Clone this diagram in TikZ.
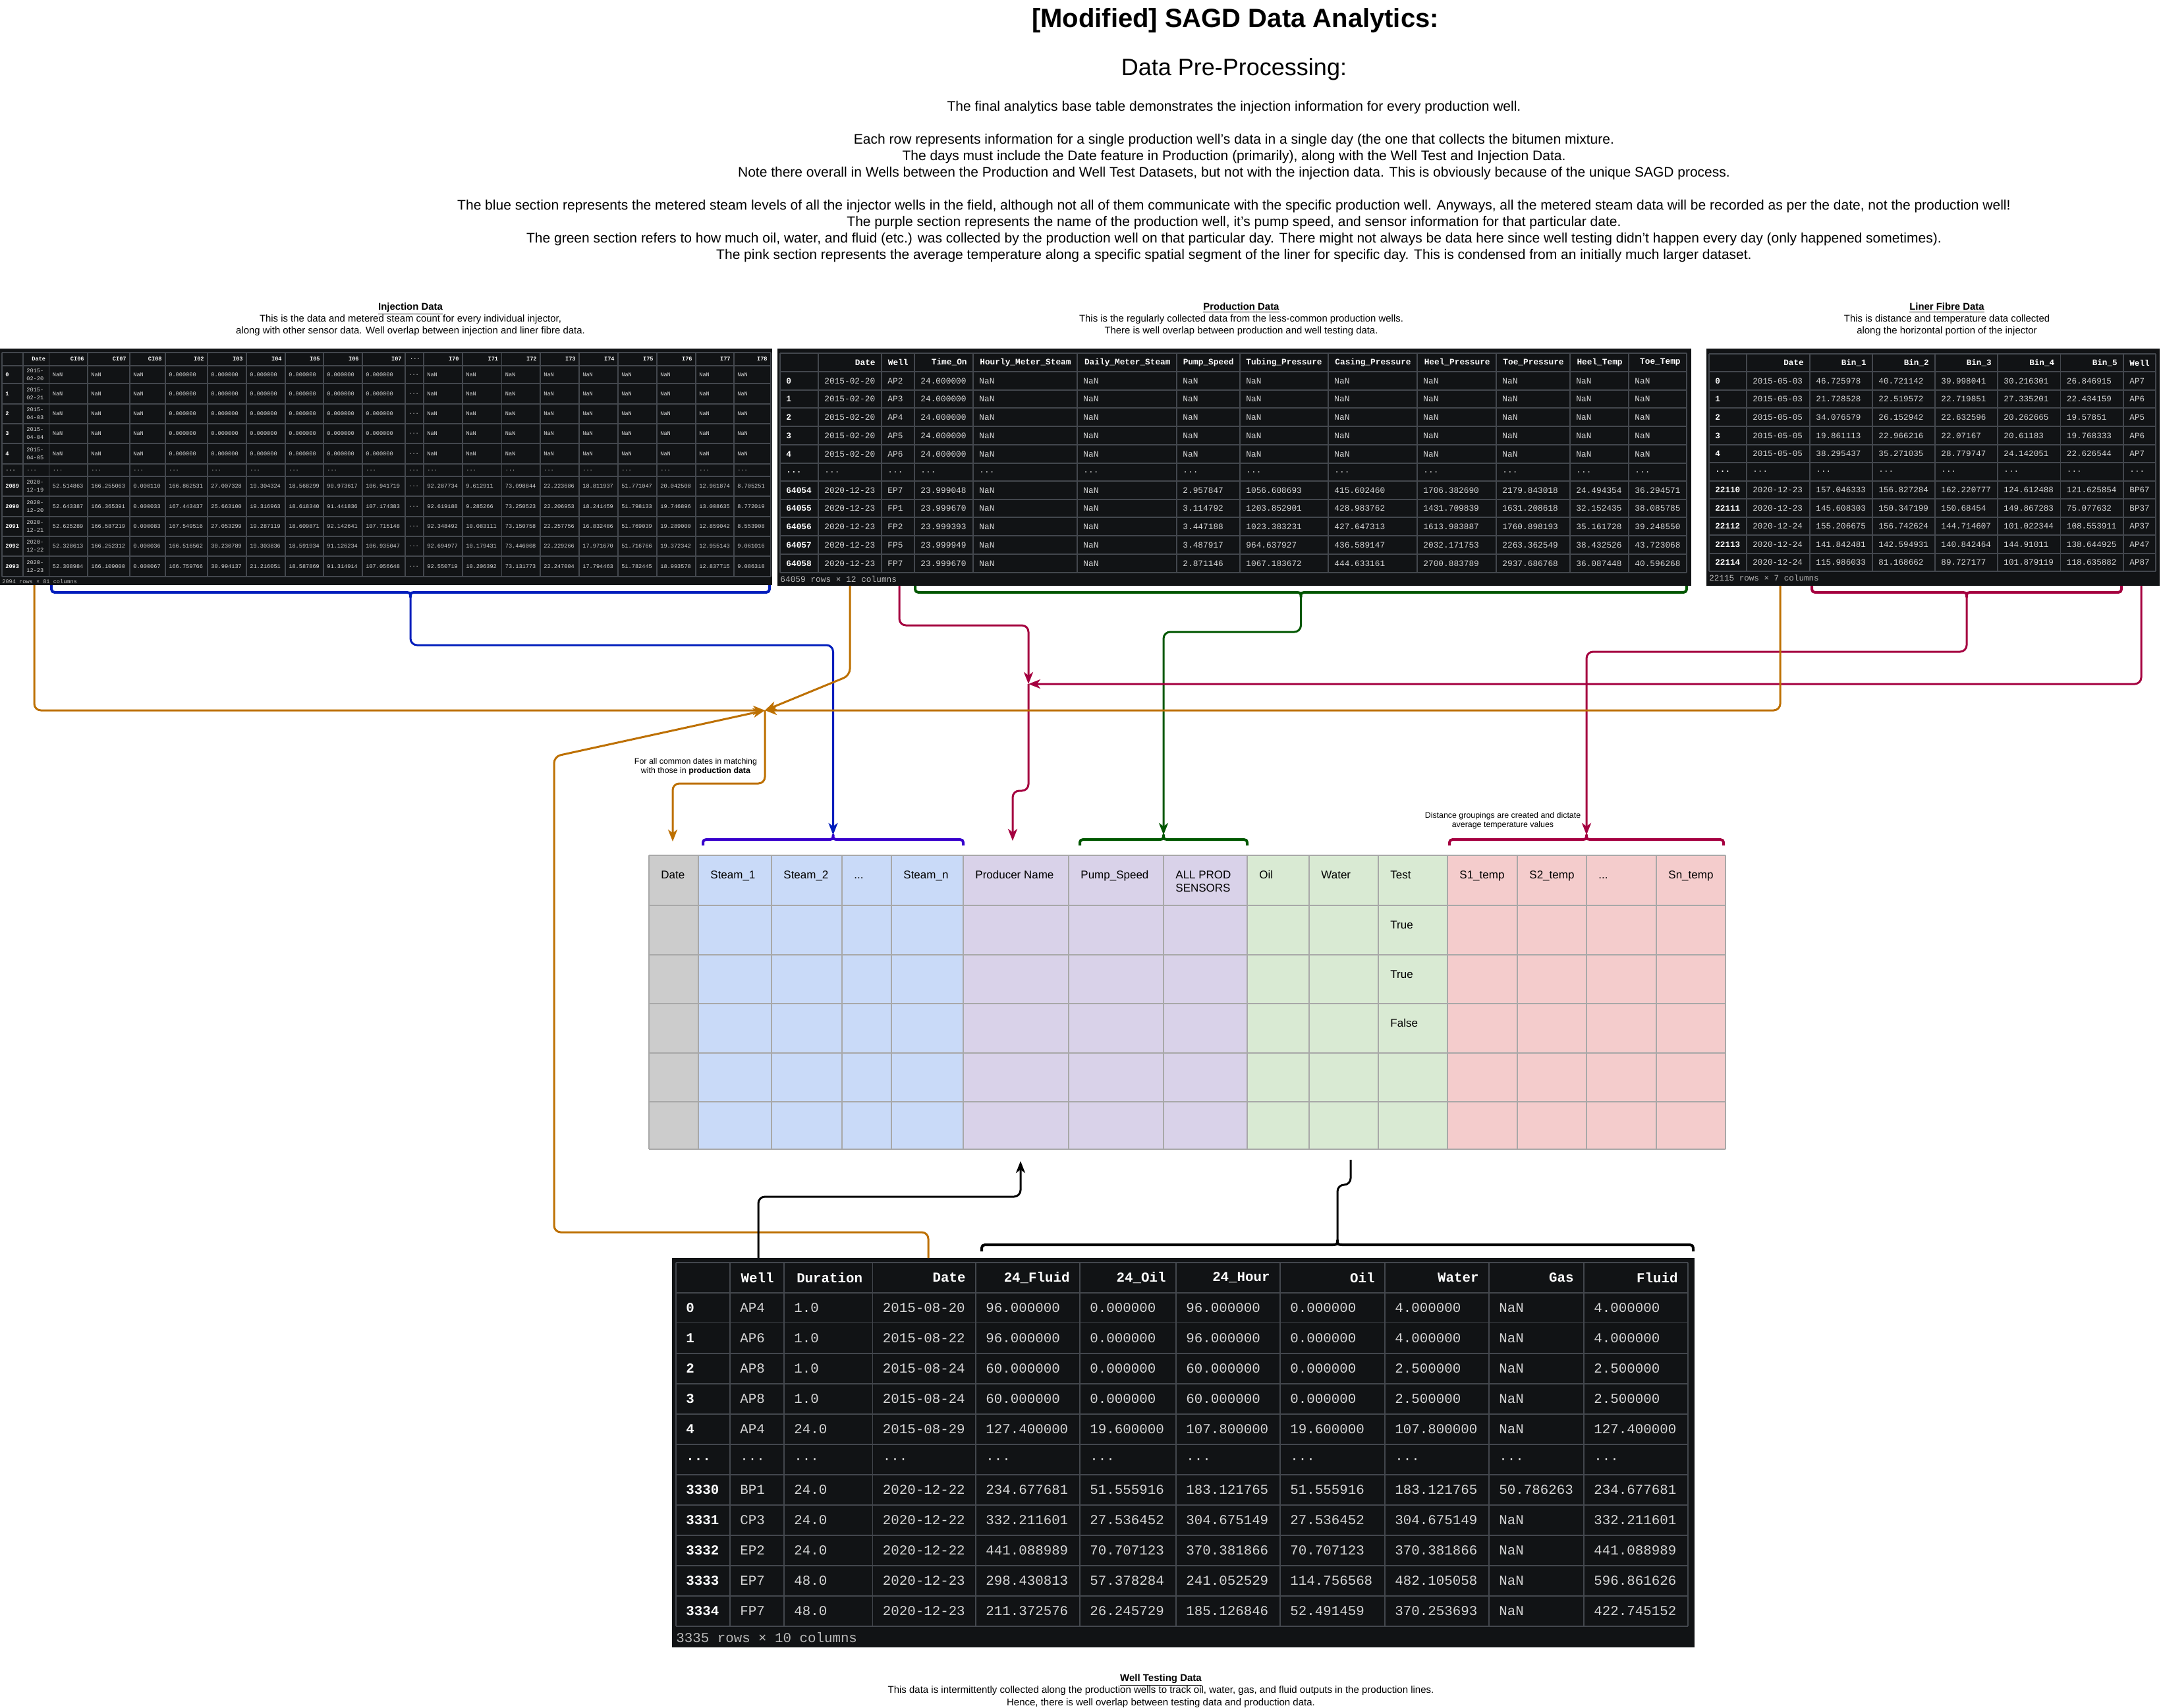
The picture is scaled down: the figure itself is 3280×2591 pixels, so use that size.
\documentclass[tikz,border=0pt]{standalone}
\usepackage{fontspec}
\setmainfont{Liberation Sans}
\newfontfamily\dfmono{Liberation Mono}
\usetikzlibrary{arrows.meta}
\definecolor{dfbg}{HTML}{111315}
\definecolor{dfgrid}{HTML}{43474D}
\definecolor{dftxt}{HTML}{D6D6D6}
\definecolor{dffoot}{HTML}{BBBBBB}
\definecolor{cOrange}{HTML}{BD7000}
\definecolor{cBlue}{HTML}{001DBC}
\definecolor{cIndigo}{HTML}{3700CC}
\definecolor{cCrimson}{HTML}{A50040}
\definecolor{cGreen}{HTML}{005700}
\definecolor{gGray}{HTML}{CCCCCC}
\definecolor{gBlue}{HTML}{C9DAF8}
\definecolor{gPurple}{HTML}{D9D2E9}
\definecolor{gGreen}{HTML}{D9EAD3}
\definecolor{gPink}{HTML}{F4CCCC}
\definecolor{gLine}{HTML}{A8A8A8}
\newcommand{\dfdots}{...}
% header row: prefix, xarray, y centre, style, pad, cells (columns 1..n)
\newcommand{\dfhead}[6]{%
  \foreach \c [count=\i from 1] in {#6} {%
    \pgfmathsetmacro\xr{#2[\i+1]}%
    \node[#4, anchor=east, text=white] (#1-\i) at (\xr-#5, #3) {\bfseries\c};
  }}
% data row: prefix, xarray, y centre, style, pad, cells (columns 0..n)
\newcommand{\dfdata}[6]{%
  \foreach \c [count=\i from 0] in {#6} {%
    \pgfmathsetmacro\xl{#2[\i]}%
    \ifnum\i=0
      \node[#4, anchor=west, text=white] (#1-\i) at (\xl+#5, #3) {\bfseries\c};
    \else
      \node[#4, anchor=west] (#1-\i) at (\xl+#5, #3) {\c};
    \fi
  }}
% horizontal brace: style, x1, x2, y of ends, y of line, y of tip
\newcommand{\hbrace}[6]{%
  \pgfmathsetmacro\bm{(#2+#3)/2}%
  \draw[#1] (#2,#4) .. controls (#2,#5) .. (#2+11,#5) -- (\bm-11,#5)
    .. controls (\bm,#5) .. (\bm,#6) .. controls (\bm,#5) .. (\bm+11,#5)
    -- (#3-11,#5) .. controls (#3,#5) .. (#3,#4);}
\def\injX{{3,35,74.5,133,197,251,315,374,433,491,550,615,643,702,761.5,820,879,938,997,1056,1114,1170}}
\def\prX{{1184,1242,1338,1388,1477,1635,1786,1882,2016,2151,2271,2383,2472,2560}}
\def\lnX{{2594,2651,2747,2842,2937,3032,3127.5,3223,3272}}
\def\wtX{{1026,1108,1190,1324.5,1481,1639,1785,1943,2102,2260,2404,2562}}
\begin{document}
\begin{tikzpicture}[x=0.5pt, y={(0pt,-0.5pt)},
  injc/.style={font=\dfmono\fontsize{4.3}{5.9}\selectfont, text=dftxt, inner sep=0pt, align=left},
  prc/.style={font=\dfmono\fontsize{6.4}{7.5}\selectfont, text=dftxt, inner sep=0pt},
  lnc/.style={font=\dfmono\fontsize{6.3}{7.5}\selectfont, text=dftxt, inner sep=0pt},
  wtc/.style={font=\dfmono\fontsize{10.4}{12}\selectfont, text=dftxt, inner sep=0pt},
  dffooter/.style={text=dffoot},
  gridln/.style={draw=dfgrid, line width=0.7pt},
  capt/.style={font=\fontsize{7.45}{9}\selectfont, align=center, inner sep=0pt},
  body/.style={font=\fontsize{10.5}{12.5}\selectfont, align=center, inner sep=0pt},
  note/.style={font=\fontsize{6.2}{7}\selectfont, align=center, inner sep=0pt},
  mth/.style={font=\fontsize{8.5}{10}\selectfont, anchor=base west, inner sep=0pt},
  conn/.style={line width=1.5pt, rounded corners=5pt},
  tip/.style={-{Stealth[length=9pt,width=7pt,inset=2.5pt]}},
  brace/.style={line width=2pt, line join=round}]
\fill[white] (0,0) rectangle (3280,2591);
\useasboundingbox (0,0) rectangle (3280,2591);

% ---------------- titles ----------------
\node[font=\bfseries\fontsize{20}{24}\selectfont, inner sep=0pt] (title) at (1875,31) {[Modified] SAGD Data Analytics:};
\node[font=\fontsize{18}{22}\selectfont, inner sep=0pt] (subtitle) at (1873,105) {Data Pre-Processing:};
\node[body] (p1) at (1873,163) {The final analytics base table demonstrates the injection information for every production well.};
\node[body] (p2) at (1873,238) {Each row represents information for a single production well's data in a single day (the one that collects the bitumen mixture.\\
The days must include the Date feature in Production (primarily), along with the Well Test and Injection Data.\\
Note there overall in Wells between the Production and Well Test Datasets, but not with the injection data. This is obviously because of the unique SAGD process.};
\node[body] (p3) at (1873,351) {The blue section represents the metered steam levels of all the injector wells in the field, although not all of them communicate with the specific production well. Anyways, all the metered steam data will be recorded as per the date, not the production well!\\
The purple section represents the name of the production well, it's pump speed, and sensor information for that particular date.\\
The green section refers to how much oil, water, and fluid (etc.) was collected by the production well on that particular day. There might not always be data here since well testing didn't happen every day (only happened sometimes).\\
The pink section represents the average temperature along a specific spatial segment of the liner for specific day. This is condensed from an initially much larger dataset.};

% ---------------- captions ----------------
\node[capt] (capInj) at (623,485) {\underline{\textbf{Injection Data}}\\This is the data and metered steam count for every individual injector,\\along with other sensor data. Well overlap between injection and liner fibre data.};
\node[capt] (capProd) at (1884,485) {\underline{\textbf{Production Data}}\\This is the regularly collected data from the less-common production wells.\\There is well overlap between production and well testing data.};
\node[capt] (capLin) at (2955,485) {\underline{\textbf{Liner Fibre Data}}\\This is distance and temperature data collected\\along the horizontal portion of the injector};
\node[capt, font=\fontsize{7.5}{9.25}\selectfont] (capWell) at (1762,2566) {\underline{\textbf{Well Testing Data}}\\This data is intermittently collected along the production wells to track oil, water, gas, and fluid outputs in the production lines.\\Hence, there is well overlap between testing data and production data.};

% ---------------- injection table ----------------
\fill[dfbg] (0,529) rectangle (1172,888);
\foreach \x in {3,35,74.5,133,197,251,315,374,433,491,550,615,643,702,761.5,820,879,938,997,1056,1114,1170}
  \draw[gridln] (\x,535) -- (\x,875);
\foreach \y in {535,555,582,613,643,673,704,723,753,784,814,844,875}
  \draw[gridln] (3,\y) -- (1170,\y);
\dfhead{ih}{\injX}{545}{injc}{5}{Date,CI06,CI07,CI08,I02,I03,I04,I05,I06,I07,\dfdots,I70,I71,I72,I73,I74,I75,I76,I77,I78}
\dfdata{ir0}{\injX}{568.5}{injc}{5}{0,{2015-\\02-20},NaN,NaN,NaN,0.000000,0.000000,0.000000,0.000000,0.000000,0.000000,\dfdots,NaN,NaN,NaN,NaN,NaN,NaN,NaN,NaN,NaN}
\dfdata{ir1}{\injX}{597.5}{injc}{5}{1,{2015-\\02-21},NaN,NaN,NaN,0.000000,0.000000,0.000000,0.000000,0.000000,0.000000,\dfdots,NaN,NaN,NaN,NaN,NaN,NaN,NaN,NaN,NaN}
\dfdata{ir2}{\injX}{628}{injc}{5}{2,{2015-\\04-03},NaN,NaN,NaN,0.000000,0.000000,0.000000,0.000000,0.000000,0.000000,\dfdots,NaN,NaN,NaN,NaN,NaN,NaN,NaN,NaN,NaN}
\dfdata{ir3}{\injX}{658}{injc}{5}{3,{2015-\\04-04},NaN,NaN,NaN,0.000000,0.000000,0.000000,0.000000,0.000000,0.000000,\dfdots,NaN,NaN,NaN,NaN,NaN,NaN,NaN,NaN,NaN}
\dfdata{ir4}{\injX}{688.5}{injc}{5}{4,{2015-\\04-05},NaN,NaN,NaN,0.000000,0.000000,0.000000,0.000000,0.000000,0.000000,\dfdots,NaN,NaN,NaN,NaN,NaN,NaN,NaN,NaN,NaN}
\dfdata{ir5}{\injX}{713.5}{injc}{5}{\dfdots,\dfdots,\dfdots,\dfdots,\dfdots,\dfdots,\dfdots,\dfdots,\dfdots,\dfdots,\dfdots,\dfdots,\dfdots,\dfdots,\dfdots,\dfdots,\dfdots,\dfdots,\dfdots,\dfdots,\dfdots}
\dfdata{ir6}{\injX}{738}{injc}{5}{2089,{2020-\\12-19},52.514863,166.255063,0.000110,166.862531,27.007328,19.304324,18.568299,90.973617,106.941719,\dfdots,92.287734,9.612911,73.098844,22.223686,18.811937,51.771047,20.042508,12.961874,8.705251}
\dfdata{ir7}{\injX}{768.5}{injc}{5}{2090,{2020-\\12-20},52.643387,166.365391,0.000033,167.443437,25.663100,19.316963,18.618340,91.441836,107.174383,\dfdots,92.619188,9.285266,73.250523,22.206953,18.241459,51.798133,19.746896,13.008635,8.772019}
\dfdata{ir8}{\injX}{799}{injc}{5}{2091,{2020-\\12-21},52.625289,166.587219,0.000083,167.549516,27.053299,19.287119,18.609871,92.142641,107.715148,\dfdots,92.348492,10.083111,73.150758,22.257756,16.832486,51.769039,19.289000,12.859042,8.553908}
\dfdata{ir9}{\injX}{829}{injc}{5}{2092,{2020-\\12-22},52.328613,166.252312,0.000036,166.516562,30.230789,19.303836,18.591934,91.126234,106.935047,\dfdots,92.694977,10.179431,73.446008,22.229266,17.971670,51.716766,19.372342,12.955143,9.061016}
\dfdata{ir10}{\injX}{859.5}{injc}{5}{2093,{2020-\\12-23},52.308984,166.109000,0.000067,166.759766,30.994137,21.216051,18.587869,91.314914,107.056648,\dfdots,92.550719,10.206392,73.131773,22.247004,17.794463,51.782445,18.993578,12.837715,9.086318}
\node[injc, dffooter, anchor=west] (injfoot) at (3,882) {2094 rows × 81 columns};

% ---------------- production table ----------------
\fill[dfbg] (1180,529) rectangle (2567,889);
\foreach \x in {1184,1242,1338,1388,1477,1635,1786,1882,2016,2151,2271,2383,2472,2560}
  \draw[gridln] (\x,536) -- (\x,869);
\foreach \y in {536,564,592,619,647,675,703,730,758,785,813,841,869}
  \draw[gridln] (1184,\y) -- (2560,\y);
\dfhead{ph}{\prX}{550}{prc}{9}{Date,Well,Time\_On,Hourly\_Meter\_Steam,Daily\_Meter\_Steam,Pump\_Speed,Tubing\_Pressure,Casing\_Pressure,Heel\_Pressure,Toe\_Pressure,Heel\_Temp,Toe\_Temp}
\dfdata{pr0}{\prX}{578}{prc}{9}{0,2015-02-20,AP2,24.000000,NaN,NaN,NaN,NaN,NaN,NaN,NaN,NaN,NaN}
\dfdata{pr1}{\prX}{605.5}{prc}{9}{1,2015-02-20,AP3,24.000000,NaN,NaN,NaN,NaN,NaN,NaN,NaN,NaN,NaN}
\dfdata{pr2}{\prX}{633}{prc}{9}{2,2015-02-20,AP4,24.000000,NaN,NaN,NaN,NaN,NaN,NaN,NaN,NaN,NaN}
\dfdata{pr3}{\prX}{661}{prc}{9}{3,2015-02-20,AP5,24.000000,NaN,NaN,NaN,NaN,NaN,NaN,NaN,NaN,NaN}
\dfdata{pr4}{\prX}{689}{prc}{9}{4,2015-02-20,AP6,24.000000,NaN,NaN,NaN,NaN,NaN,NaN,NaN,NaN,NaN}
\dfdata{pr5}{\prX}{716.5}{prc}{9}{\dfdots,\dfdots,\dfdots,\dfdots,\dfdots,\dfdots,\dfdots,\dfdots,\dfdots,\dfdots,\dfdots,\dfdots,\dfdots}
\dfdata{pr6}{\prX}{744}{prc}{9}{64054,2020-12-23,EP7,23.999048,NaN,NaN,2.957847,1056.608693,415.602460,1706.382690,2179.843018,24.494354,36.294571}
\dfdata{pr7}{\prX}{771.5}{prc}{9}{64055,2020-12-23,FP1,23.999670,NaN,NaN,3.114792,1203.852901,428.983762,1431.709839,1631.208618,32.152435,38.085785}
\dfdata{pr8}{\prX}{799}{prc}{9}{64056,2020-12-23,FP2,23.999393,NaN,NaN,3.447188,1023.383231,427.647313,1613.983887,1760.898193,35.161728,39.248550}
\dfdata{pr9}{\prX}{827}{prc}{9}{64057,2020-12-23,FP5,23.999949,NaN,NaN,3.487917,964.637927,436.589147,2032.171753,2263.362549,38.432526,43.723068}
\dfdata{pr10}{\prX}{855}{prc}{9}{64058,2020-12-23,FP7,23.999670,NaN,NaN,2.871146,1067.183672,444.633161,2700.883789,2937.686768,36.087448,40.596268}
\node[prc, dffooter, anchor=west] (prfoot) at (1184,879) {64059 rows × 12 columns};

% ---------------- liner fibre table ----------------
\fill[dfbg] (2590,529) rectangle (3278,889);
\foreach \x in {2594,2651,2747,2842,2937,3032,3127.5,3223,3272}
  \draw[gridln] (\x,537) -- (\x,867);
\foreach \y in {537,564,592,619,647,675,702,730,757,785,812,840,867}
  \draw[gridln] (2594,\y) -- (3272,\y);
\dfhead{lh}{\lnX}{550.5}{lnc}{9}{Date,Bin\_1,Bin\_2,Bin\_3,Bin\_4,Bin\_5,Well}
\dfdata{lr0}{\lnX}{578}{lnc}{9}{0,2015-05-03,46.725978,40.721142,39.998041,30.216301,26.846915,AP7}
\dfdata{lr1}{\lnX}{605.5}{lnc}{9}{1,2015-05-03,21.728528,22.519572,22.719851,27.335201,22.434159,AP6}
\dfdata{lr2}{\lnX}{633}{lnc}{9}{2,2015-05-05,34.076579,26.152942,22.632596,20.262665,19.57851,AP5}
\dfdata{lr3}{\lnX}{661}{lnc}{9}{3,2015-05-05,19.861113,22.966216,22.07167,20.61183,19.768333,AP6}
\dfdata{lr4}{\lnX}{688.5}{lnc}{9}{4,2015-05-05,38.295437,35.271035,28.779747,24.142051,22.626544,AP7}
\dfdata{lr5}{\lnX}{716}{lnc}{9}{\dfdots,\dfdots,\dfdots,\dfdots,\dfdots,\dfdots,\dfdots,\dfdots}
\dfdata{lr6}{\lnX}{743.5}{lnc}{9}{22110,2020-12-23,157.046333,156.827284,162.220777,124.612488,121.625854,BP67}
\dfdata{lr7}{\lnX}{771}{lnc}{9}{22111,2020-12-23,145.608303,150.347199,150.68454,149.867283,75.077632,BP37}
\dfdata{lr8}{\lnX}{798.5}{lnc}{9}{22112,2020-12-24,155.206675,156.742624,144.714607,101.022344,108.553911,AP37}
\dfdata{lr9}{\lnX}{826}{lnc}{9}{22113,2020-12-24,141.842481,142.594931,140.842464,144.91011,138.644925,AP47}
\dfdata{lr10}{\lnX}{853.5}{lnc}{9}{22114,2020-12-24,115.986033,81.168662,89.727177,101.879119,118.635882,AP87}
\node[lnc, dffooter, anchor=west] (lnfoot) at (2594,877) {22115 rows × 7 columns};

% ---------------- well testing table ----------------
\fill[dfbg] (1020,1909) rectangle (2572,2500);
\foreach \x in {1026,1108,1190,1324.5,1481,1639,1785,1943,2102,2260,2404,2562}
  \draw[gridln] (\x,1916) -- (\x,2468);
\foreach \y in {1916,1962,2007.5,2054,2100,2146,2192,2238,2284,2330,2376,2422,2468}
  \draw[gridln] (1026,\y) -- (2562,\y);
\dfhead{wh}{\wtX}{1939}{wtc}{15}{Well,Duration,Date,24\_Fluid,24\_Oil,24\_Hour,Oil,Water,Gas,Fluid}
\dfdata{wr0}{\wtX}{1985}{wtc}{15}{0,AP4,1.0,2015-08-20,96.000000,0.000000,96.000000,0.000000,4.000000,NaN,4.000000}
\dfdata{wr1}{\wtX}{2031}{wtc}{15}{1,AP6,1.0,2015-08-22,96.000000,0.000000,96.000000,0.000000,4.000000,NaN,4.000000}
\dfdata{wr2}{\wtX}{2077}{wtc}{15}{2,AP8,1.0,2015-08-24,60.000000,0.000000,60.000000,0.000000,2.500000,NaN,2.500000}
\dfdata{wr3}{\wtX}{2123}{wtc}{15}{3,AP8,1.0,2015-08-24,60.000000,0.000000,60.000000,0.000000,2.500000,NaN,2.500000}
\dfdata{wr4}{\wtX}{2169}{wtc}{15}{4,AP4,24.0,2015-08-29,127.400000,19.600000,107.800000,19.600000,107.800000,NaN,127.400000}
\dfdata{wr5}{\wtX}{2215}{wtc}{15}{\dfdots,\dfdots,\dfdots,\dfdots,\dfdots,\dfdots,\dfdots,\dfdots,\dfdots,\dfdots,\dfdots}
\dfdata{wr6}{\wtX}{2261}{wtc}{15}{3330,BP1,24.0,2020-12-22,234.677681,51.555916,183.121765,51.555916,183.121765,50.786263,234.677681}
\dfdata{wr7}{\wtX}{2307}{wtc}{15}{3331,CP3,24.0,2020-12-22,332.211601,27.536452,304.675149,27.536452,304.675149,NaN,332.211601}
\dfdata{wr8}{\wtX}{2353}{wtc}{15}{3332,EP2,24.0,2020-12-22,441.088989,70.707123,370.381866,70.707123,370.381866,NaN,441.088989}
\dfdata{wr9}{\wtX}{2399}{wtc}{15}{3333,EP7,48.0,2020-12-23,298.430813,57.378284,241.052529,114.756568,482.105058,NaN,596.861626}
\dfdata{wr10}{\wtX}{2445}{wtc}{15}{3334,FP7,48.0,2020-12-23,211.372576,26.245729,185.126846,52.491459,370.253693,NaN,422.745152}
\node[wtc, dffooter, anchor=west] (wtfoot) at (1026,2485) {3335 rows × 10 columns};

% ---------------- analytics base table ----------------
\foreach \xa/\xb/\cl in {985/1060/gGray,1060/1171/gBlue,1171/1278/gBlue,1278/1353/gBlue,1353/1462/gBlue,1462/1622/gPurple,1622/1766/gPurple,1766/1893/gPurple,1893/1987/gGreen,1987/2092/gGreen,2092/2197/gGreen,2197/2303/gPink,2303/2408/gPink,2408/2514/gPink,2514/2619/gPink}
  \fill[\cl] (\xa,1298) rectangle (\xb,1744);
\foreach \x in {985,1060,1171,1278,1353,1462,1622,1766,1893,1987,2092,2197,2303,2408,2514,2619}
  \draw[gLine, line width=0.6pt] (\x,1298) -- (\x,1744);
\foreach \y in {1298,1374,1449,1523,1598,1672,1744}
  \draw[gLine, line width=1.2pt] (985,\y) -- (2619,\y);
\node[mth] (mDate) at (1003,1333) {Date};
\node[mth] (mS1) at (1078,1333) {Steam\_1};
\node[mth] (mS2) at (1189,1333) {Steam\_2};
\node[mth] (mSd) at (1296,1333) {...};
\node[mth] (mSn) at (1371,1333) {Steam\_n};
\node[mth] (mProd) at (1480,1333) {Producer Name};
\node[mth] (mPump) at (1640,1333) {Pump\_Speed};
\node[mth] (mAll) at (1784,1333) {\begin{tabular}[t]{@{}l@{}}ALL PROD\\SENSORS\end{tabular}};
\node[mth] (mOil) at (1911,1333) {Oil};
\node[mth] (mWater) at (2005,1333) {Water};
\node[mth] (mTest) at (2110,1333) {Test};
\node[mth] (mT1) at (2215,1333) {S1\_temp};
\node[mth] (mT2) at (2321,1333) {S2\_temp};
\node[mth] (mTd) at (2426,1333) {...};
\node[mth] (mTn) at (2532,1333) {Sn\_temp};
\node[mth] (mTrue1) at (2110,1409) {True};
\node[mth] (mTrue2) at (2110,1484) {True};
\node[mth] (mFalse) at (2110,1558) {False};

% ---------------- notes ----------------
\node[note] (noteDates) at (1056,1163) {For all common dates in matching\\with those in \textbf{production data}};
\node[note] (noteDist) at (2281,1245) {Distance groupings are created and dictate\\average temperature values};

% ---------------- connector end points ----------------
\coordinate (oA) at (52,888);
\coordinate (oB) at (1290,889);
\coordinate (oC) at (2702,889);
\coordinate (oD) at (1409,1909);
\coordinate (oJ) at (1161,1078);
\coordinate (oEnd) at (1021,1277);
\coordinate (bInj) at (623,906);
\coordinate (bMidBlue) at (1264.5,1267);
\coordinate (cP) at (1365,889);
\coordinate (cL) at (3250,889);
\coordinate (cJ) at (1561,1038);
\coordinate (cEnd) at (1537,1276);
\coordinate (bLin) at (2985,906);
\coordinate (bMidPink) at (2408,1267);
\coordinate (bProd) at (1974.5,906);
\coordinate (bMidGreen) at (1766,1267);
\coordinate (kA) at (1151,1909);
\coordinate (kEnd) at (1549,1762);
\coordinate (bWell) at (2030,1882);
\coordinate (kTop) at (2050,1760);

% ---------------- braces ----------------
\hbrace{brace, cBlue}{78}{1168}{888}{899}{906}
\hbrace{brace, cGreen}{1389}{2560}{889}{899}{906}
\hbrace{brace, cCrimson}{2750}{3220}{889}{899}{906}
\hbrace{brace, cIndigo}{1067}{1462}{1283}{1274}{1267}
\hbrace{brace, cGreen}{1639}{1893}{1283}{1274}{1267}
\hbrace{brace, cCrimson}{2200}{2616}{1283}{1274}{1267}
\hbrace{brace, black}{1490}{2570}{1899}{1889}{1882}

% ---------------- connectors ----------------
\draw[conn, tip, cBlue] (bInj) -- (623,979) -- (1264.5,979) -- (bMidBlue);
\draw[conn, tip, cGreen] (bProd) -- (1974.5,959) -- (1766,959) -- (bMidGreen);
\draw[conn, tip, cCrimson] (bLin) -- (2985,989) -- (2408,989) -- (bMidPink);
\draw[conn, tip, cCrimson] (cP) -- (1365,949) -- (1561,949) -- (cJ);
\draw[conn, tip, cCrimson] (cL) -- (3250,1038) -- (cJ);
\draw[conn, tip, cCrimson] (cJ) -- (1561,1200) -- (1537,1200) -- (cEnd);
\draw[conn, tip, cOrange] (oA) -- (52,1078) -- (oJ);
\draw[conn, tip, cOrange] (oB) -- (1290,1025) -- (oJ);
\draw[conn, tip, cOrange] (oC) -- (2702,1078) -- (oJ);
\draw[conn, tip, cOrange] (oD) -- (1409,1870) -- (841,1870) -- (841,1148) -- (oJ);
\draw[conn, tip, cOrange] (oJ) -- (1161,1189) -- (1021,1189) -- (oEnd);
\draw[conn, tip, black] (kA) -- (1151,1816) -- (1549,1816) -- (kEnd);
\draw[conn, black] (bWell) -- (2030,1798) -- (2050,1798) -- (kTop);
\end{tikzpicture}
\end{document}
